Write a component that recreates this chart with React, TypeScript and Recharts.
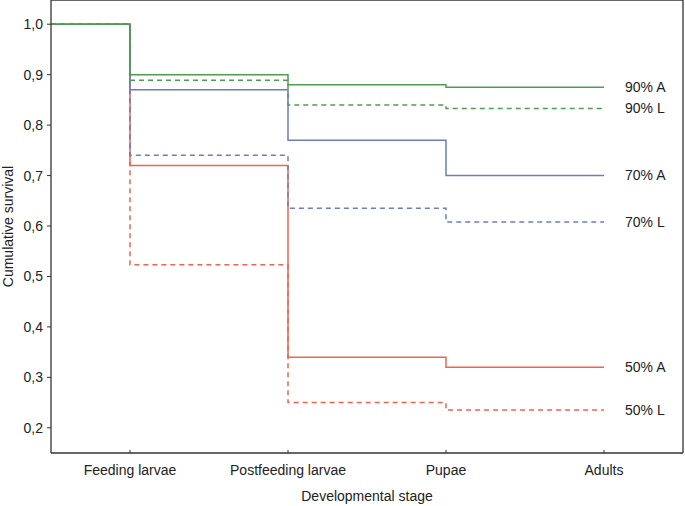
import React from 'react';
import { LineChart, Line, XAxis, YAxis, Label } from 'recharts';

const stages = ['Feeding larvae', 'Postfeeding larvae', 'Pupae', 'Adults'];
const startValue = 1.0;

const a90 = [0.9, 0.88, 0.875, 0.875];
const l90 = [0.889, 0.84, 0.833, 0.833];
const a70 = [0.87, 0.77, 0.7, 0.7];
const l70 = [0.74, 0.635, 0.608, 0.608];
const a50 = [0.72, 0.34, 0.32, 0.32];
const l50 = [0.523, 0.25, 0.235, 0.235];

const yTicks = [0.2, 0.3, 0.4, 0.5, 0.6, 0.7, 0.8, 0.9, 1.0];
const rightTicks = [0.1, 0.2, 0.3, 0.4, 0.5, 0.6, 0.7, 0.8, 0.9, 1.0];

const GREEN = '#4f9d4f';
const BLUE = '#6b7cc3';
const RED = '#f0644e';
const FONT = '"Liberation Sans", Arial, sans-serif';

const series = [
  { name: '50% A', values: a50, color: RED, dashed: false },
  { name: '50% L', values: l50, color: RED, dashed: true },
  { name: '70% A', values: a70, color: BLUE, dashed: false },
  { name: '70% L', values: l70, color: BLUE, dashed: true },
  { name: '90% A', values: a90, color: GREEN, dashed: false },
  { name: '90% L', values: l90, color: GREEN, dashed: true },
];

const toPoints = (values: number[]) => [
  { x: 0.5, v: startValue },
  ...values.map((v, i) => ({ x: i + 1, v })),
];

const CatTick = (props: any) => {
  const { x, y, payload } = props;
  return (
    <g>
      <line x1={x} x2={x} y1={y - 12} y2={y - 15} stroke="#333" strokeWidth={1} />
      <text x={x} y={y} dy="0.71em" textAnchor="middle" fontSize={14} fontFamily={FONT} fill="#222">
        {stages[payload.value - 1]}
      </text>
    </g>
  );
};

const YTitle = (props: any) => {
  const { viewBox } = props;
  const cx = 8;
  const cy = viewBox.y + viewBox.height / 2;
  return (
    <text x={cx} y={cy} transform={`rotate(-90, ${cx}, ${cy})`} textAnchor="middle" dominantBaseline="central"
      fontSize={14} fontFamily={FONT} fill="#222">
      Cumulative survival
    </text>
  );
};

const endLabel = (name: string, last: number) => (props: any) => {
  const { x, y, index } = props;
  if (index !== last) return <g />;
  return (
    <text x={x + 21} y={y} dy="0.35em" fontSize={14} fontFamily={FONT} fill="#222">
      {name}
    </text>
  );
};

export default function App() {
  return (
    <div style={{ position: 'absolute', left: 0, top: 0, background: '#fff' }}>
      <LineChart width={685} height={506} margin={{ top: 0, right: 2, left: 0, bottom: 0 }}>
        <XAxis
          xAxisId="main"
          dataKey="x"
          type="number"
          domain={[0.5, 4.5]}
          ticks={[1, 2, 3, 4]}
          height={53}
          tickSize={4}
          tickMargin={8}
          tickLine={false}
          tick={<CatTick />}
          axisLine={{ stroke: '#333', strokeWidth: 1.3 }}
          allowDataOverflow
        >
          <Label value="Developmental stage" position="insideBottom" offset={5} fontSize={14} fontFamily={FONT} fill="#222" />
        </XAxis>
        <XAxis
          xAxisId="top"
          orientation="top"
          type="number"
          domain={[0.5, 4.5]}
          ticks={[1, 2, 3, 4]}
          height={1}
          mirror
          tickSize={3}
          tick={false}
          tickLine={{ stroke: '#333' }}
          axisLine={{ stroke: '#333', strokeWidth: 1.3 }}
          allowDataOverflow
        />
        <YAxis
          yAxisId="left"
          type="number"
          domain={[0.15, 1.048]}
          ticks={yTicks}
          width={51}
          tickSize={4}
          tickMargin={4}
          tickFormatter={(v: number) => v.toFixed(1).replace('.', ',')}
          tick={{ fontSize: 14, fontFamily: FONT, fill: '#222' }}
          tickLine={{ stroke: '#333' }}
          axisLine={{ stroke: '#333', strokeWidth: 1.3 }}
          allowDataOverflow
        >
          <Label content={<YTitle />} />
        </YAxis>
        <YAxis
          yAxisId="right"
          orientation="right"
          type="number"
          domain={[0.1, 1.048]}
          ticks={rightTicks}
          width={1}
          mirror
          tickSize={3}
          tick={false}
          tickLine={{ stroke: '#333' }}
          axisLine={{ stroke: '#333', strokeWidth: 1.3 }}
          allowDataOverflow
        />
        {series.map((s) => (
          <Line
            key={s.name}
            xAxisId="main"
            yAxisId="left"
            data={toPoints(s.values)}
            dataKey="v"
            type="stepAfter"
            stroke={s.color}
            strokeWidth={1.5}
            strokeDasharray={s.dashed ? '5 4' : undefined}
            dot={false}
            activeDot={false}
            isAnimationActive={false}
            label={endLabel(s.name, s.values.length)}
          />
        ))}
      </LineChart>
    </div>
  );
}
